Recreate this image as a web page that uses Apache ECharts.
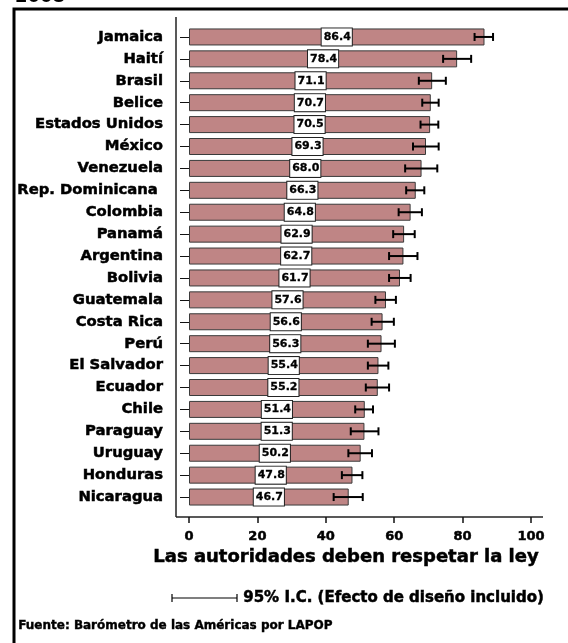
<!DOCTYPE html>
<html>
<head>
<meta charset="utf-8">
<script src="https://cdn.jsdelivr.net/npm/echarts@6/dist/echarts.min.js"></script>
<style>
html,body{margin:0;padding:0;background:#fff;}
#c{width:568px;height:643px;}
</style>
</head>
<body>
<div id="c"></div>
<script>
const countries = ["Jamaica","Haití","Brasil","Belice","Estados Unidos","México","Venezuela","Rep. Dominicana ","Colombia","Panamá","Argentina","Bolivia","Guatemala","Costa Rica","Perú","El Salvador","Ecuador","Chile","Paraguay","Uruguay","Honduras","Nicaragua"];
const means = [86.4,78.4,71.1,70.7,70.5,69.3,68.0,66.3,64.8,62.9,62.7,61.7,57.6,56.6,56.3,55.4,55.2,51.4,51.3,50.2,47.8,46.7];
const ciLow = [83.5,74.3,67.2,68.2,67.7,65.5,63.2,63.5,61.3,59.7,58.5,58.5,54.5,53.4,52.3,52.3,51.7,48.6,47.3,46.6,44.7,42.3];
const ciHigh = [88.9,82.5,75.1,73.0,72.9,73.0,72.6,68.8,68.1,66.0,66.8,64.8,60.5,59.9,60.2,58.3,58.5,53.8,55.4,53.5,50.7,50.8];
const xTicks = [0,20,40,60,80,100];
const axisTitle = "Las autoridades deben respetar la ley";
const legendText = "95% I.C. (Efecto de diseño incluido)";
const sourceText = "Fuente: Barómetro de las Américas por LAPOP";
const yearText = "2008";

const FONT = "DejaVu Sans";
const chart = echarts.init(document.getElementById('c'), null, {renderer:'canvas'});

const errData = ciLow.map((lo,i)=>[lo, ciHigh[i], i]);
const heavy = {textBorderColor:'#000', textBorderWidth:0.5};

const option = {
  animation:false,
  backgroundColor:'#fff',
  grid:{left:189, right:37, top:26, bottom:135, containLabel:false},
  xAxis:{
    type:'value', min:xTicks[0], max:xTicks[xTicks.length-1], interval:20,
    offset:9,
    axisLine:{show:false},
    axisTick:{show:true, length:6, lineStyle:{color:'#111', width:1.5}},
    splitLine:{show:false},
    axisLabel:Object.assign({margin:13, fontFamily:FONT, fontWeight:'bold', fontSize:13, color:'#000'}, heavy),
    name:axisTitle, nameLocation:'middle', nameGap:27,
    nameTextStyle:Object.assign({fontFamily:FONT, fontWeight:'bold', fontSize:18, color:'#000', padding:[0,28,0,0]}, heavy)
  },
  yAxis:{
    type:'category', data:countries, inverse:true, offset:13,
    axisLine:{show:false},
    axisTick:{show:true, alignWithLabel:true, length:9, lineStyle:{color:'#111', width:1}},
    axisLabel:Object.assign({margin:13, fontFamily:FONT, fontWeight:'bold', fontSize:14.8, color:'#000'}, heavy)
  },
  series:[
    {
      type:'bar', data:means, barWidth:17,
      itemStyle:{color:'#bf8585', borderColor:'#3a3a3a', borderWidth:1},
      label:{show:true, position:'inside', formatter:p=>p.value.toFixed(1),
        fontFamily:FONT, fontWeight:'bold', fontSize:11, color:'#000',
        textBorderColor:'#000', textBorderWidth:0.3,
        backgroundColor:'#fff', borderColor:'#222', borderWidth:1, padding:[2,1,2,2], lineHeight:13}
    },
    {
      type:'custom', data:errData, encode:{x:[0,1], y:2}, z:5,
      renderItem:function(params, api){
        const idx = api.value(2);
        const p1 = api.coord([api.value(0), idx]);
        const p2 = api.coord([api.value(1), idx]);
        const h = 4;
        const st = {stroke:'#000', lineWidth:2};
        return {type:'group', children:[
          {type:'line', shape:{x1:p1[0], y1:p1[1], x2:p2[0], y2:p2[1]}, style:st},
          {type:'line', shape:{x1:p1[0], y1:p1[1]-h, x2:p1[0], y2:p1[1]+h}, style:st},
          {type:'line', shape:{x1:p2[0], y1:p2[1]-h, x2:p2[0], y2:p2[1]+h}, style:st}
        ]};
      }
    }
  ],
  graphic:[
    {type:'rect', shape:{x:14, y:9, width:620, height:700}, style:{fill:null, stroke:'#000', lineWidth:3}, silent:true},
    {type:'text', left:15, top:-12, style:{text:yearText, font:'bold 18px "DejaVu Sans"', fill:'#000'}},
    {type:'line', shape:{x1:176, y1:17, x2:176, y2:517}, style:{stroke:'#222', lineWidth:1.5}},
    {type:'line', shape:{x1:176, y1:517, x2:543, y2:517}, style:{stroke:'#222', lineWidth:1.5}},
    {type:'line', shape:{x1:172, y1:598, x2:237, y2:598}, style:{stroke:'#000', lineWidth:1.2}},
    {type:'line', shape:{x1:172, y1:594, x2:172, y2:602}, style:{stroke:'#000', lineWidth:1.2}},
    {type:'line', shape:{x1:237, y1:594, x2:237, y2:602}, style:{stroke:'#000', lineWidth:1.2}},
    {type:'text', left:243, top:590, style:{text:legendText, font:'bold 15px "DejaVu Sans"', fill:'#000', stroke:'#000', lineWidth:0.5}},
    {type:'text', left:18, top:620, style:{text:sourceText, font:'bold 12px "DejaVu Sans"', fill:'#000', stroke:'#000', lineWidth:0.4}}
  ]
};
chart.setOption(option);
</script>
</body>
</html>
